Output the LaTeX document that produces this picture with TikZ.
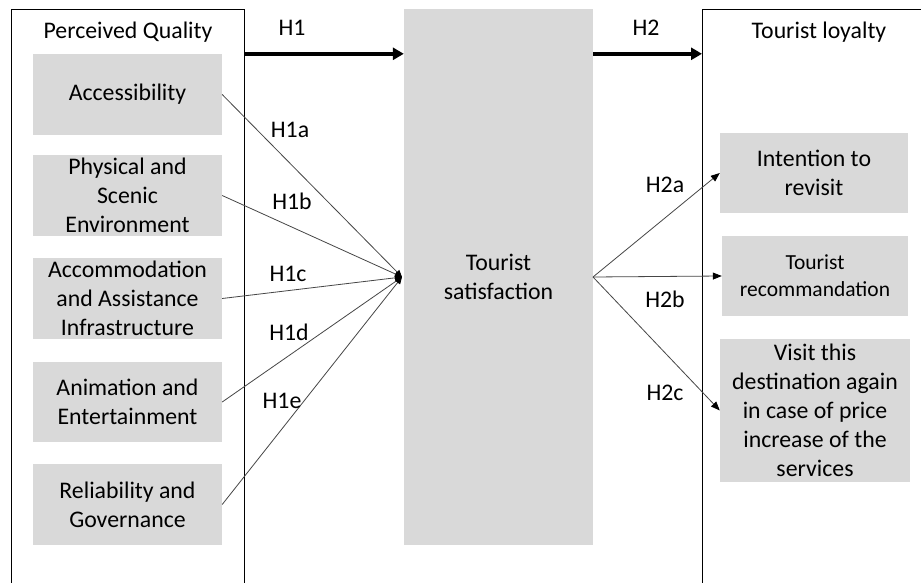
\documentclass[tikz,border=0pt]{standalone}
\usepackage{fontspec}
\setmainfont{Carlito}
\usetikzlibrary{arrows.meta}
\definecolor{boxgray}{RGB}{217,217,217}
\definecolor{linegray}{RGB}{70,70,70}
\begin{document}
\begin{tikzpicture}[x=1pt,y=-1pt,
  every node/.style={font=\fontsize{23.8}{29}\selectfont, inner sep=0pt},
  item/.style={fill=boxgray, align=center, inner sep=0pt},
  group/.style={draw=black, line width=1.2pt, anchor=north west, minimum width=#1, minimum height=620},
  bigarrow/.style={line width=3.6pt, -{Triangle[length=11pt,width=12pt]}},
  h1line/.style={draw=linegray, line width=0.8pt, -{Triangle[length=7pt,width=6pt,color=black]}},
  h2line/.style={draw=linegray, line width=0.8pt, -{Triangle[length=9pt,width=7pt,color=black]}},
  lbl/.style={}
]
\useasboundingbox (0,0) rectangle (921,583);
\clip (0,0) rectangle (921,583);
\fill[white] (0,0) rectangle (921,583);

% group frames
\node[group=233] (pq) at (11,9) {};
\node[group=260] (tl) at (702,9) {};
\node (pqt) at (128,32) {Perceived Quality};
\node (tlt) at (819,32) {Tourist loyalty};

% left items
\node[item, minimum width=189, minimum height=81] (acc) at (127.5,94.5) {Accessibility};
\node[item, minimum width=189, minimum height=81] (phy) at (127.5,195.5) {Physical and\\Scenic\\Environment};
\node[item, minimum width=189, minimum height=81] (aca) at (127.5,298.5) {Accommodation\\and Assistance\\Infrastructure};
\node[item, minimum width=189, minimum height=80] (ani) at (127.5,402) {Animation and\\Entertainment};
\node[item, minimum width=189, minimum height=81] (rel) at (127.5,504.5) {Reliability and\\Governance};

% central
\node[item, minimum width=189, minimum height=536] (ts) at (498.5,277) {Tourist\\satisfaction};

% right items
\node[item, minimum width=188, minimum height=80] (itr) at (814,173) {Intention to\\revisit};
\node[item, minimum width=186, minimum height=80, font=\fontsize{21.5}{27}\selectfont] (rec) at (815,276) {Tourist\\recommandation};
\node[item, minimum width=190, minimum height=143] (vis) at (815,410.5) {Visit this\\destination again\\in case of price\\increase of the\\services};

% main arrows
\draw[bigarrow] (pq.east |- acc.north) -- (ts.west |- acc.north);
\draw[bigarrow] (ts.east |- acc.north) -- (tl.west |- acc.north);
\node[lbl] (h1) at (292,28) {H1};
\node[lbl] (h2) at (646,28) {H2};

% H1 sub-arrows
\coordinate (hub) at (402,277);
\draw[h1line] (acc.east) -- (hub);
\draw[h1line] (phy.east) -- (hub);
\draw[h1line] (aca.east) -- (hub);
\draw[h1line] (ani.east) -- (hub);
\draw[h1line] (rel.east) -- (hub);
\node[lbl] (h1a) at (290,130) {H1a};
\node[lbl] (h1b) at (292,201) {H1b};
\node[lbl] (h1c) at (288,274) {H1c};
\node[lbl] (h1d) at (289,332) {H1d};
\node[lbl] (h1e) at (282,401) {H1e};

% H2 sub-arrows
\coordinate (src) at (593,277);
\draw[h2line] (src) -- (itr.west);
\draw[h2line] (src) -- (rec.west);
\draw[h2line] (src) -- (vis.west);
\node[lbl] (h2a) at (665,185) {H2a};
\node[lbl] (h2b) at (665,299) {H2b};
\node[lbl] (h2c) at (665,393) {H2c};
\end{tikzpicture}
\end{document}
